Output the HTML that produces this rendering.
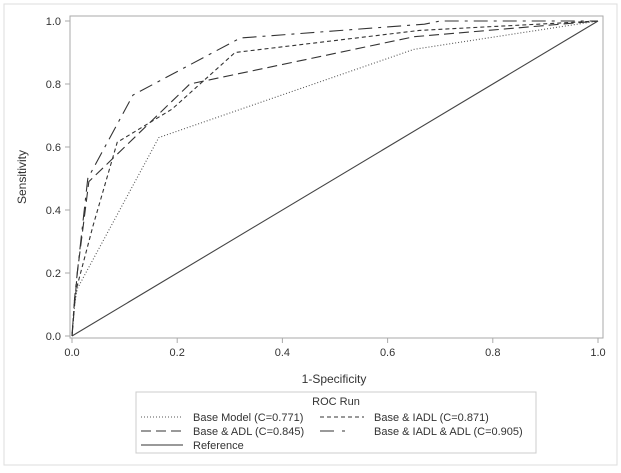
<!DOCTYPE html>
<html><head><meta charset="utf-8"><style>
body{margin:0;background:#fff;font-family:"Liberation Sans",sans-serif}
svg text{font-family:"Liberation Sans",sans-serif;fill:#333}
</style></head><body>
<svg width="621" height="468" viewBox="0 0 621 468">
<rect x="4" y="4" width="613" height="461" fill="#fff" stroke="#ddd"/>
<rect x="70" y="16" width="533" height="322" fill="#fff" stroke="#aaa"/>
<g id="axes"></g>
<g id="series"></g>
<text x="334" y="383" text-anchor="middle" font-size="12">1-Specificity</text>
<text transform="translate(26,177) rotate(-90)" text-anchor="middle" font-size="12">Sensitivity</text>
<g>
<rect x="136" y="392" width="400" height="61" fill="#fff" stroke="#ccc"/>
<text x="336" y="405" text-anchor="middle" font-size="11">ROC Run</text>
<g><line x1="141" y1="417" x2="183" y2="417" stroke="#555" stroke-dasharray="1,2"/><text x="193" y="421" font-size="11">Base Model (C=0.771)</text></g>
<g><line x1="320" y1="417" x2="364" y2="417" stroke="#333" stroke-dasharray="4,3"/><text x="374" y="421" font-size="11">Base &amp; IADL (C=0.871)</text></g>
<g><line x1="141" y1="431" x2="183" y2="431" stroke="#333" stroke-dasharray="10,5"/><text x="193" y="435" font-size="11">Base &amp; ADL (C=0.845)</text></g>
<g><line x1="320" y1="431" x2="364" y2="431" stroke="#333" stroke-dasharray="14,8,3,20"/><text x="374" y="435" font-size="11">Base &amp; IADL &amp; ADL (C=0.905)</text></g>
<g><line x1="141" y1="445" x2="183" y2="445" stroke="#333"/><text x="193" y="449" font-size="11">Reference</text></g>
</g>
</svg>
<script>
const ticks=[0,0.2,0.4,0.6,0.8,1.0];
const tickLabels=["0.0","0.2","0.4","0.6","0.8","1.0"];
const baseX=[0,0.005,0.01,0.165,0.65,1];
const baseY=[0,0.10,0.15,0.63,0.91,1];
const iadlX=[0,0.005,0.01,0.04,0.086,0.19,0.31,0.66,1];
const iadlY=[0,0.12,0.16,0.35,0.615,0.72,0.90,0.97,1];
const adlX=[0,0.005,0.01,0.032,0.224,0.65,1];
const adlY=[0,0.10,0.20,0.49,0.80,0.95,1];
const bothX=[0,0.005,0.01,0.03,0.116,0.32,0.67,0.70,1];
const bothY=[0,0.12,0.20,0.50,0.765,0.946,0.99,1,1];
const refX=[0,1];
const refY=[0,1];
const sx=v=>72+v*526, sy=v=>336-v*315;
const NS="http://www.w3.org/2000/svg";
const axes=document.getElementById('axes'), ser=document.getElementById('series');
function mk(t,a,p){const e=document.createElementNS(NS,t);for(const k in a)e.setAttribute(k,a[k]);p.appendChild(e);return e;}
ticks.forEach((t,i)=>{
 let l=mk('line',{x1:sx(t),x2:sx(t),y1:338,y2:343,stroke:'#aaa'},axes);
 
 
 let tx=mk('text',{x:sx(t),y:356,'text-anchor':'middle','font-size':11},axes);tx.textContent=tickLabels[i];
 
 
 let l2=mk('line',{x1:65,x2:70,y1:sy(t),y2:sy(t),stroke:'#aaa'},axes);
 
 
 let ty=mk('text',{x:61,y:sy(t)+4,'text-anchor':'end','font-size':11},axes);ty.textContent=tickLabels[i];
 
 
});
function line(xs,ys,dash,name,col){
 const p=mk('polyline',{points:xs.map((x,i)=>sx(x)+','+sy(ys[i])).join(' '),fill:'none',stroke:col,'stroke-width':1.1},ser);
 if(dash)p.setAttribute('stroke-dasharray',dash);
 
 
}
line(refX,refY,null,'reference-line','#444');
line(baseX,baseY,'1,2','base-model-curve','#555');
line(iadlX,iadlY,'4,3','iadl-curve','#333');
line(adlX,adlY,'10,5','adl-curve','#333');
line(bothX,bothY,'14,6,3,6','iadl-adl-curve','#333');
</script>
</body></html>
